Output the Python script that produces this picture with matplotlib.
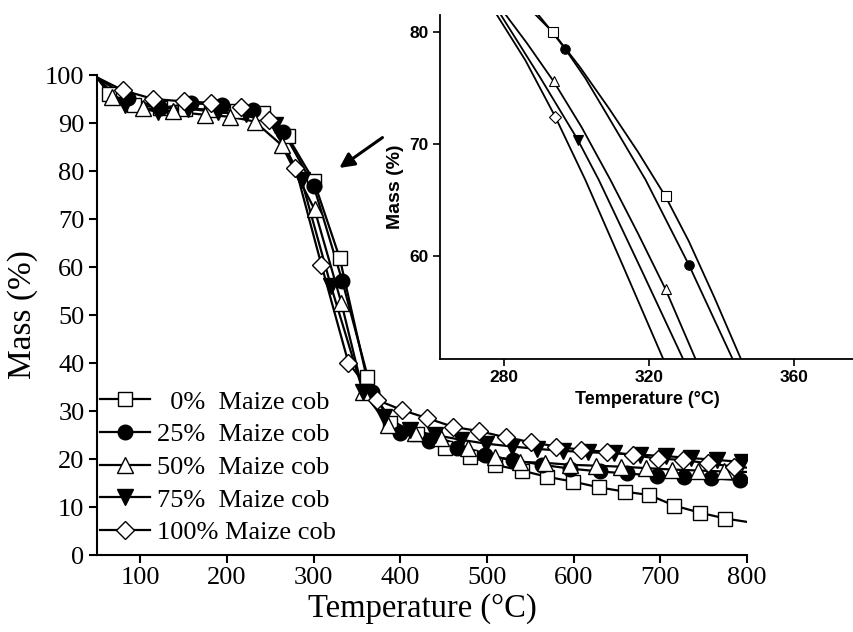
"""TGA curves of maize cob blends with an inset zoom on the main decomposition step."""

import matplotlib

matplotlib.use("Agg")
import matplotlib.pyplot as plt

# main plot: temperature (°C) and mass (%)
# first and last points are the line ends, the rest carry markers
t_0 = [50, 64, 93, 123, 152, 182, 211, 241, 270, 300, 330, 361, 388, 419, 452, 480,
       509, 540, 569, 599, 629, 659, 687, 716, 746, 775, 800]
m_0 = [99.5, 96.0, 93.8, 93.2, 93.0, 92.8, 92.5, 92.0, 87.2, 78.0, 61.9, 37.1, 27.4,
       25.3, 22.2, 20.5, 18.8, 17.6, 16.3, 15.3, 14.1, 13.2, 12.5, 10.3, 8.8, 7.6, 6.9]

t_25 = [50, 86, 123, 159, 194, 230, 265, 300, 333, 367, 400, 433, 465, 498, 530, 563,
        596, 630, 661, 696, 727, 759, 792, 800]
m_25 = [99.5, 95.2, 93.1, 94.1, 93.8, 92.7, 88.2, 76.9, 57.1, 34.0, 25.4, 23.8, 22.2,
        20.8, 19.8, 18.8, 18.0, 17.4, 17.0, 16.5, 16.3, 16.0, 15.6, 15.5]

t_50 = [50, 67, 103, 138, 175, 204, 232, 263, 301, 332, 357, 386, 417, 447, 478, 509,
        538, 567, 596, 626, 655, 684, 714, 744, 773, 800]
m_50 = [99.5, 95.4, 93.1, 92.4, 91.7, 91.3, 90.3, 85.4, 72.0, 52.5, 34.0, 27.1, 25.5,
        24.3, 22.2, 20.5, 19.4, 19.2, 18.8, 18.6, 18.4, 18.1, 17.8, 17.6, 17.4, 17.3]

t_75 = [50, 82, 120, 155, 190, 222, 255, 286, 320, 357, 381, 411, 440, 470, 499, 529,
        558, 588, 617, 647, 676, 706, 735, 765, 794, 800]
m_75 = [99.5, 93.8, 92.3, 93.0, 92.2, 91.8, 89.5, 78.1, 56.0, 34.0, 28.8, 26.0, 25.0,
        24.0, 23.2, 22.6, 22.1, 21.7, 21.4, 21.2, 20.9, 20.6, 20.2, 19.8, 19.4, 19.3]

t_100 = [50, 80, 115, 150, 182, 216, 248, 279, 309, 340, 373, 402, 431, 461, 491, 522,
         551, 580, 609, 639, 668, 697, 726, 755, 785, 800]
m_100 = [99.5, 96.8, 95.0, 94.5, 94.2, 93.4, 90.7, 80.7, 60.4, 40.1, 32.3, 30.2, 28.5,
         26.7, 25.8, 24.5, 23.5, 22.6, 21.9, 21.5, 20.8, 20.1, 19.8, 19.1, 18.4, 18.2]

# inset: curve points and the few marked points
it_0 = [287.5, 293.6, 301.0, 309.0, 317.0, 324.6, 331.0, 338.0, 345.3, 345.7]
im_0 = [82.0, 80.0, 76.9, 73.2, 69.3, 65.3, 61.3, 56.3, 50.8, 50.5]
it_25 = [288.5, 292.5, 297.0, 302.5, 308.0, 319.1, 331.0, 337.0, 343.0, 343.4]
im_25 = [82.0, 80.4, 78.5, 75.9, 72.9, 66.8, 59.2, 55.0, 50.8, 50.5]
it_50 = [279.6, 286.5, 293.8, 301.5, 309.4, 317.0, 324.6, 333.2]
im_50 = [82.0, 79.0, 75.6, 71.5, 66.8, 62.0, 57.0, 50.5]
it_75 = [278.6, 290.0, 300.4, 306.2, 318.0, 329.8]
im_75 = [81.9, 76.0, 70.4, 66.8, 58.7, 50.5]
it_100 = [277.7, 286.0, 294.3, 302.5, 313.0, 324.3]
im_100 = [81.8, 77.5, 72.4, 66.8, 59.0, 50.5]

mark_t_0, mark_m_0 = [293.6, 324.6], [80.0, 65.3]
mark_t_25, mark_m_25 = [297.0, 331.0], [78.5, 59.2]
mark_t_50, mark_m_50 = [293.8, 324.6], [75.6, 57.0]
mark_t_75, mark_m_75 = [300.4], [70.4]
mark_t_100, mark_m_100 = [294.3], [72.4]

labels = ["  0%  Maize cob", "25%  Maize cob", "50%  Maize cob",
          "75%  Maize cob", "100% Maize cob"]

styles = [
    dict(marker="s", mfc="white", ms=10),
    dict(marker="o", mfc="black", ms=10.5),
    dict(marker="^", mfc="white", ms=11),
    dict(marker="v", mfc="black", ms=11),
    dict(marker="D", mfc="white", ms=9.5),
]

main_series = [(t_0, m_0), (t_25, m_25), (t_50, m_50), (t_75, m_75), (t_100, m_100)]
inset_series = [(it_0, im_0), (it_25, im_25), (it_50, im_50), (it_75, im_75), (it_100, im_100)]
inset_marks = [(mark_t_0, mark_m_0), (mark_t_25, mark_m_25), (mark_t_50, mark_m_50),
               (mark_t_75, mark_m_75), (mark_t_100, mark_m_100)]

serif = "Liberation Serif"
sans = "Liberation Sans"

fig = plt.figure(figsize=(8.54, 6.32), dpi=100)
ax = fig.add_axes([97 / 854, 77 / 632, 650 / 854, 480 / 632])

handles = []
for (t, m), st, lab in zip(main_series, styles, labels):
    ax.plot(t, m, color="black", lw=1.6, zorder=2)
    ax.plot(t[1:-1], m[1:-1], ls="none", marker=st["marker"], ms=st["ms"],
            mfc=st["mfc"], mec="black", mew=1.0, zorder=3)
    h, = ax.plot([], [], color="black", lw=1.6, marker=st["marker"], ms=st["ms"],
                 mfc=st["mfc"], mec="black", mew=1.0)
    handles.append(h)

ax.set_xlim(50, 800)
ax.set_ylim(0, 100)
ax.set_xticks(range(100, 801, 100))
ax.set_yticks(range(0, 101, 10))
for side in ("top", "right"):
    ax.spines[side].set_visible(False)
for side in ("left", "bottom"):
    ax.spines[side].set_linewidth(1.5)
ax.tick_params(direction="out", length=6, width=1.5, labelsize=19, pad=3)
for lbl in ax.get_xticklabels() + ax.get_yticklabels():
    lbl.set_fontfamily(serif)
ax.set_xlabel("Temperature (°C)", fontsize=23.5, fontfamily=serif, labelpad=3)
ax.set_ylabel("Mass (%)", fontsize=24, fontfamily=serif, labelpad=5)

ax.legend(handles, labels, loc="lower left", bbox_to_anchor=(0.005, 0.022),
          frameon=False, prop={"family": serif, "size": 19}, handlelength=1.9,
          handletextpad=0.25, labelspacing=0.35, borderpad=0, borderaxespad=0)

ax.annotate("", xy=(327, 80.3), xytext=(382, 87.3),
            arrowprops=dict(arrowstyle="-|>", color="black", lw=2.2, mutation_scale=22))

# inset
ins = fig.add_axes([440 / 854, (632 - 359) / 632, (854 - 440) / 854, (359 - 15) / 632])
ins.patch.set_alpha(0)
for (t, m), (mt, mm), st in zip(inset_series, inset_marks, styles):
    ins.plot(t, m, color="black", lw=1.3, zorder=2)
    ins.plot(mt, mm, ls="none", marker=st["marker"], ms=st["ms"] * 0.65,
             mfc=st["mfc"], mec="black", mew=0.8, zorder=3)

ins.set_xlim(262.5, 376.5)
ins.set_ylim(50.75, 81.55)
ins.set_xticks([280, 320, 360])
ins.set_yticks([60, 70, 80])
for side in ("top", "right"):
    ins.spines[side].set_visible(False)
for side in ("left", "bottom"):
    ins.spines[side].set_linewidth(1.3)
ins.tick_params(direction="out", length=5, width=1.2, labelsize=12.5, pad=3)
for lbl in ins.get_xticklabels() + ins.get_yticklabels():
    lbl.set_fontfamily(sans)
    lbl.set_fontweight("bold")
ins.set_xlabel("Temperature (°C)", fontsize=13, fontfamily=sans, fontweight="bold",
               labelpad=4)
ins.set_ylabel("Mass (%)", fontsize=14, fontfamily=sans, fontweight="bold", labelpad=4)

fig.savefig("out.png", dpi=100)
